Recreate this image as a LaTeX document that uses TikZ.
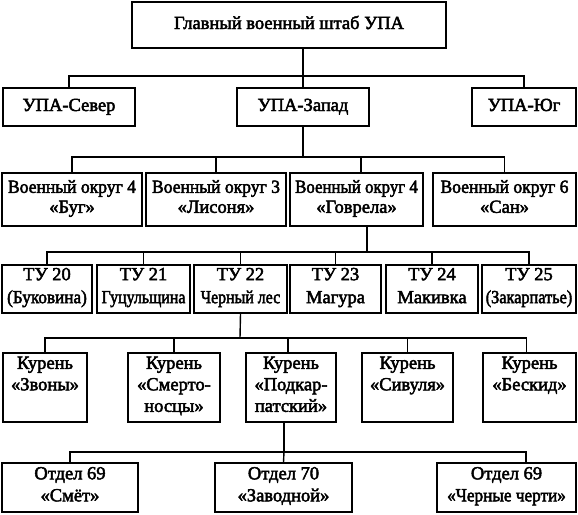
\documentclass[tikz,border=0pt]{standalone}
\usepackage{fontspec}
\usepackage{graphicx}
\newfontfamily\dfont{Liberation Serif}[FakeBold=2.6]
\newcommand{\sqz}[2]{\scalebox{#1}[1]{#2}}
\tikzset{
  box/.style={draw, line width=1.4pt, inner sep=0pt, align=center,
    execute at begin node=\strut, execute at end node=\strut},
  conn/.style={line width=1.4pt},
  rowA/.style={font=\dfont\fontsize{18.5}{20}\selectfont},
  rowB/.style={font=\dfont\fontsize{18.5}{20}\selectfont},
  rowC/.style={font=\dfont\fontsize{18.5}{23}\selectfont},
  rowD/.style={font=\dfont\fontsize{18.5}{21.5}\selectfont},
  rowE/.style={font=\dfont\fontsize{18.5}{22}\selectfont},
}
\begin{document}
\begin{tikzpicture}[x=1pt,y=-1pt]
\path[use as bounding box] (0,0) rectangle (578,514);
% row 1
\node[box,rowA,minimum width=314pt,minimum height=46pt] (top) at (289,25) {Главный военный штаб УПА};
% row 2
\node[box,rowA,minimum width=132pt,minimum height=38pt] (sever) at (69,107) {УПА-Север};
\node[box,rowA,minimum width=132pt,minimum height=38pt] (zapad) at (303,107) {УПА-Запад};
\node[box,rowA,minimum width=104pt,minimum height=38pt] (yug) at (524,107) {УПА-Юг};
% row 3
\node[box,rowB,minimum width=140pt,minimum height=53pt] (o1) at (72,199.5) {\sqz{0.95}{Военный округ 4}\\«Буг»};
\node[box,rowB,minimum width=140pt,minimum height=53pt] (o2) at (216,199.5) {\sqz{0.95}{Военный округ 3}\\«Лисоня»};
\node[box,rowB,minimum width=133pt,minimum height=53pt] (o3) at (356.5,199.5) {\sqz{0.91}{Военный округ 4}\\«Говрела»};
\node[box,rowB,minimum width=143pt,minimum height=53pt] (o4) at (504.5,199.5) {\sqz{0.95}{Военный округ 6}\\«Сан»};
% row 4
\node[box,rowC,minimum width=90pt,minimum height=48pt] (t20) at (47,289) {ТУ 20\\\sqz{0.93}{(Буковина)}};
\node[box,rowC,minimum width=93pt,minimum height=48pt] (t21) at (143.5,289) {ТУ 21\\\sqz{0.86}{Гуцульщина}};
\node[box,rowC,minimum width=93pt,minimum height=48pt] (t22) at (240.5,289) {ТУ 22\\\sqz{0.86}{Черный лес}};
\node[box,rowC,minimum width=91pt,minimum height=48pt] (t23) at (335.5,289) {ТУ 23\\Магура};
\node[box,rowC,minimum width=92pt,minimum height=48pt] (t24) at (432,289) {ТУ 24\\Макивка};
\node[box,rowC,minimum width=94pt,minimum height=48pt] (t25) at (529,289) {ТУ 25\\\sqz{0.88}{(Закарпатье)}};
% row 5
\node[box,rowD,minimum width=84pt,minimum height=69pt] (k1) at (45,387.5) {Курень\\«Звоны»\\};
\node[box,rowD,minimum width=92pt,minimum height=69pt] (k2) at (174,387.5) {Курень\\«Смерто-\\носцы»};
\node[box,rowD,minimum width=90pt,minimum height=69pt] (k3) at (291,387.5) {Курень\\«Подкар-\\патский»};
\node[box,rowD,minimum width=91pt,minimum height=69pt] (k4) at (407.5,387.5) {Курень\\«Сивуля»\\};
\node[box,rowD,minimum width=93pt,minimum height=69pt] (k5) at (529.5,387.5) {Курень\\«Бескид»\\};
% row 6
\node[box,rowE,minimum width=136pt,minimum height=49pt] (d1) at (70,487.5) {Отдел 69\\«Смёт»};
\node[box,rowE,minimum width=137pt,minimum height=49pt] (d2) at (283.5,487.5) {Отдел 70\\«Заводной»};
\node[box,rowE,minimum width=139pt,minimum height=49pt] (d3) at (506.5,487.5) {Отдел 69\\\sqz{0.93}{«Черные черти»}};
% junctions
\coordinate (j1) at (303,76);
\coordinate (j2) at (303,157);
\coordinate (j3) at (367,252);
\coordinate (j4) at (240,338);
\coordinate (j5) at (284,452);
% connectors
\draw[conn] (top.south -| j1) -- (zapad.north);
\draw[conn] (sever.north) |- (j1) -| (yug.north);
\draw[conn] (zapad.south) -- (j2);
\draw[conn] (o1.north) |- (j2) -| (o4.north);
\draw[conn] (o2.north) -- (o2.north |- j2);
\draw[conn] ([xshift=4.5pt]o3.north) -- ([xshift=4.5pt]o3.north |- j2);
\draw[conn] (o3.south -| j3) -- (j3);
\draw[conn] (t20.north) |- (j3) -| (t25.north);
\draw[conn] (t21.north) -- (t21.north |- j3);
\draw[conn] (t22.north) -- (t22.north |- j3);
\draw[conn] (t23.north) -- (t23.north |- j3);
\draw[conn] (t24.north) -- (t24.north |- j3);
\draw[conn] (t22.south) -- (j4);
\draw[conn] (k1.north) |- (j4) -| ([xshift=-3pt]k5.north);
\draw[conn] (k2.north) -- (k2.north |- j4);
\draw[conn] ([xshift=-3pt]k3.north) -- ([xshift=-3pt]k3.north |- j4);
\draw[conn] (k4.north) -- (k4.north |- j4);
\draw[conn] (k3.south -| j5) -- (j5);
\draw[conn] (d1.north) |- (j5) -| ([xshift=19.5pt]d3.north);
\draw[conn] (d2.north) -- (j5);
\end{tikzpicture}
\end{document}
